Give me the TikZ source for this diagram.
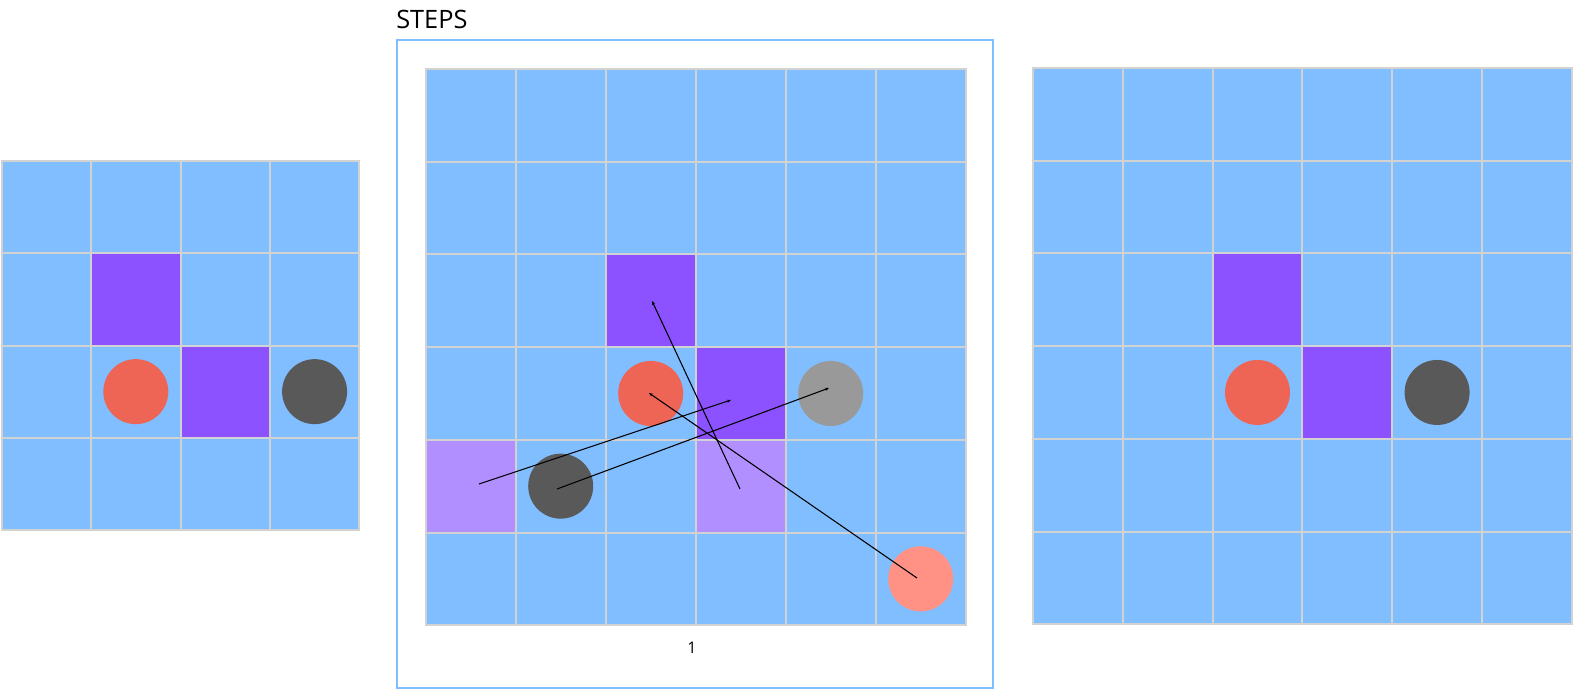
\documentclass[tikz,border=0pt]{standalone}
\usepackage{fontspec}
\setmainfont{Open Sans}
\usetikzlibrary{arrows.meta}
\definecolor{cellblue}{RGB}{128,190,255}
\definecolor{gridgray}{RGB}{210,210,210}
\definecolor{wall}{RGB}{140,82,255}
\definecolor{wallghost}{RGB}{178,143,255}
\definecolor{redball}{RGB}{238,101,85}
\definecolor{redghost}{RGB}{255,146,133}
\definecolor{darkball}{RGB}{89,89,89}
\definecolor{grayghost}{RGB}{153,153,153}
\definecolor{framecol}{RGB}{128,190,255}
\tikzset{
  gridcell/.style={fill=cellblue, draw=gridgray, line width=1.5pt},
  ball/.style={circle, minimum size=48.75pt, inner sep=0pt, draw=none},
  arr/.style={-{Stealth[length=3pt,width=2.4pt]}, line width=0.8pt, black},
}
% name, x0, y0, w, h, last index
\newcommand\mygrid[6]{%
  \foreach \i in {0,...,#6}{%
    \foreach \j in {0,...,#6}{%
      \path[gridcell] ({#2+#4*\i},{#3+#5*\j}) rectangle ++(#4,#5);
      \coordinate (#1-\i-\j) at ({#2+#4*\i+#4/2},{#3+#5*\j+#5/2});
    }%
  }%
}
% x0, y0, w, h, i, j, colour
\newcommand\mycell[7]{%
  \path[gridcell, fill=#7] ({#1+#3*#5},{#2+#4*#6}) rectangle ++(#3,#4);
}
\begin{document}
\begin{tikzpicture}[x=0.75pt,y=-0.75pt]
\useasboundingbox (0,0) rectangle (1574,690);

% ---------- left grid ----------
\mygrid{L}{1.7}{161}{89.4}{92.25}{3}
\mycell{1.7}{161}{89.4}{92.25}{1}{1}{wall}
\mycell{1.7}{161}{89.4}{92.25}{2}{2}{wall}
\node[ball, fill=redball] (Lred) at (L-1-2) {};
\node[ball, fill=darkball] (Ldark) at (L-3-2) {};

% ---------- steps frame ----------
\node[anchor=base west, font=\fontsize{19}{21}\selectfont, inner sep=0pt] (title) at (396,28) {STEPS};
\draw[framecol, line width=1.5pt] (396.7,40) rectangle (992.8,687.6);

% ---------- middle grid ----------
\mygrid{M}{425.7}{69}{90}{92.7}{5}
\mycell{425.7}{69}{90}{92.7}{2}{2}{wall}
\mycell{425.7}{69}{90}{92.7}{3}{3}{wall}
\mycell{425.7}{69}{90}{92.7}{0}{4}{wallghost}
\mycell{425.7}{69}{90}{92.7}{3}{4}{wallghost}
\node[ball, fill=redball] (Mred) at (M-2-3) {};
\node[ball, fill=grayghost] (Mgray) at (M-4-3) {};
\node[ball, fill=darkball] (Mdark) at (M-1-4) {};
\node[ball, fill=redghost] (Msalmon) at (M-5-5) {};

\coordinate (a1s) at (917,578);
\coordinate (a1e) at (649,393);
\coordinate (a2s) at (479,484);
\coordinate (a2e) at (731,400);
\coordinate (a3s) at (557,489);
\coordinate (a3e) at (829,388);
\coordinate (a4s) at (740,489);
\coordinate (a4e) at (652,301);
\draw[arr] (a1s) -- (a1e);
\draw[arr] (a2s) -- (a2e);
\draw[arr] (a3s) -- (a3e);
\draw[arr] (a4s) -- (a4e);

\node[font=\fontsize{12}{14}\selectfont, inner sep=0pt] (steplabel) at (692,648) {1};

% ---------- right grid ----------
\mygrid{R}{1033}{68}{89.8}{92.7}{5}
\mycell{1033}{68}{89.8}{92.7}{2}{2}{wall}
\mycell{1033}{68}{89.8}{92.7}{3}{3}{wall}
\node[ball, fill=redball] (Rred) at (R-2-3) {};
\node[ball, fill=darkball] (Rdark) at (R-4-3) {};
\end{tikzpicture}
\end{document}
